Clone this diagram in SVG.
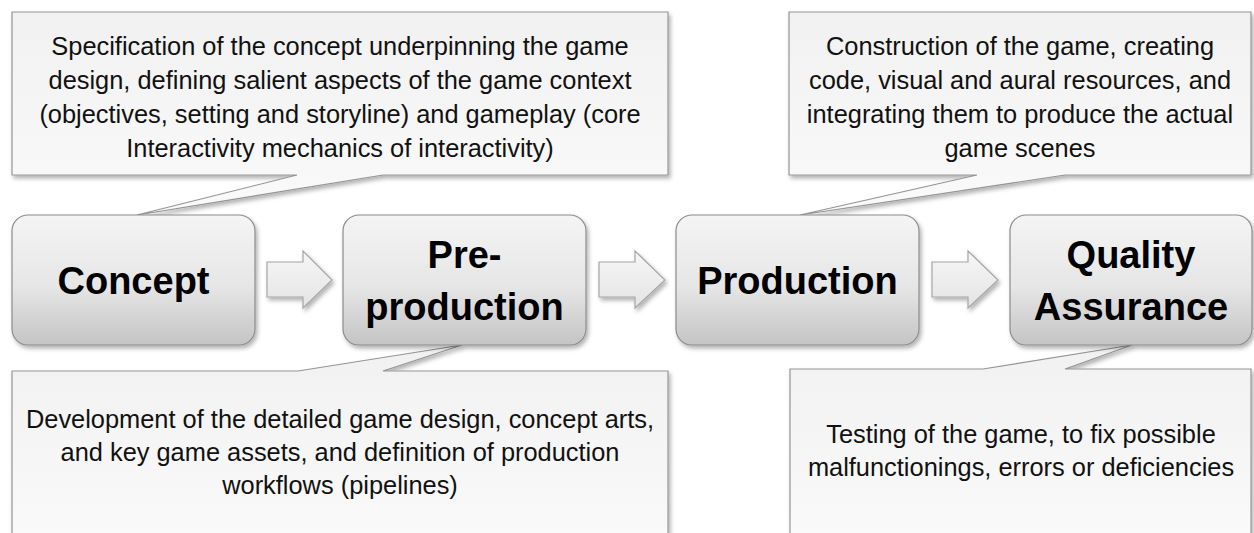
<svg xmlns="http://www.w3.org/2000/svg" width="1254" height="533" viewBox="0 0 1254 533">
<defs>
  <linearGradient id="boxGrad" x1="0" y1="0" x2="0" y2="1">
    <stop offset="0" stop-color="#f4f4f4"/>
    <stop offset="0.55" stop-color="#e6e6e6"/>
    <stop offset="1" stop-color="#c4c4c4"/>
  </linearGradient>
  <linearGradient id="calloutGrad" x1="0" y1="0" x2="0" y2="1">
    <stop offset="0" stop-color="#f1f1f1"/>
    <stop offset="1" stop-color="#fafafa"/>
  </linearGradient>
  <linearGradient id="arrowGrad" x1="0" y1="0" x2="0" y2="1">
    <stop offset="0" stop-color="#f6f6f6"/>
    <stop offset="1" stop-color="#e4e4e4"/>
  </linearGradient>
  <filter id="shadow" x="-5%" y="-5%" width="115%" height="120%">
    <feDropShadow dx="2" dy="3" stdDeviation="2" flood-color="#000" flood-opacity="0.3"/>
  </filter>
</defs>
<style>
  .box { fill: url(#boxGrad); stroke: #8c8c8c; stroke-width: 1.2; filter: url(#shadow); }
  .callout { fill: url(#calloutGrad); stroke: #959595; stroke-width: 1.2; filter: url(#shadow); }
  .arrow { fill: url(#arrowGrad); stroke: #a6a6a6; stroke-width: 1.2; filter: url(#shadow); }
  .label { font-family: "Liberation Sans", Arial, sans-serif; font-weight: bold; font-size: 38px; fill: #000; text-anchor: middle; }
  .desc { font-family: "Liberation Sans", Arial, sans-serif; font-size: 25.4px; fill: #111; text-anchor: middle; }
</style>

<g id="connectors">
  <path class="arrow" d="M267,262 H303 V251 L332,280 L303,308 V297 H267 Z"/>
  <path class="arrow" d="M599,262 H635 V251 L665,280 L635,308 V297 H599 Z"/>
  <path class="arrow" d="M932,262 H968 V251 L998,280 L968,308 V297 H932 Z"/>
</g>

<g id="callout-concept">
  <path class="callout" d="M12,12 H668 V175 H383 L137,215 L297,175 H12 Z"/>
  <text class="desc" x="340" y="55">Specification of the concept underpinning the game</text>
  <text class="desc" x="340" y="89">design, defining salient aspects of the game context</text>
  <text class="desc" x="340" y="123">(objectives, setting and storyline) and gameplay (core</text>
  <text class="desc" x="340" y="157">Interactivity mechanics of interactivity)</text>
</g>

<g id="callout-preproduction">
  <path class="callout" d="M12,371 H298 L462,345 L383,371 H668 V545 H12 Z"/>
  <text class="desc" x="340" y="428">Development of the detailed game design, concept arts,</text>
  <text class="desc" x="340" y="461">and key game assets, and definition of production</text>
  <text class="desc" x="340" y="494">workflows (pipelines)</text>
</g>

<g id="callout-production">
  <path class="callout" d="M789,12 H1251 V175 H1065 L800,215 L977,175 H789 Z"/>
  <text class="desc" x="1020" y="55">Construction of the game, creating</text>
  <text class="desc" x="1020" y="89">code, visual and aural resources, and</text>
  <text class="desc" x="1020" y="123">integrating them to produce the actual</text>
  <text class="desc" x="1020" y="157">game scenes</text>
</g>

<g id="callout-qa">
  <path class="callout" d="M790,369 H983 L1132,345 L1065,369 H1251 V545 H790 Z"/>
  <text class="desc" x="1021" y="443">Testing of the game, to fix possible</text>
  <text class="desc" x="1021" y="476">malfunctionings, errors or deficiencies</text>
</g>

<g id="node-concept">
  <rect class="box" x="12" y="215" width="243" height="130" rx="16"/>
  <text class="label" x="133.5" y="294">Concept</text>
</g>

<g id="node-preproduction">
  <rect class="box" x="343" y="215" width="243" height="130" rx="16"/>
  <text class="label" x="464.5" y="268">Pre-</text>
  <text class="label" x="464.5" y="320">production</text>
</g>

<g id="node-production">
  <rect class="box" x="676" y="215" width="243" height="130" rx="16"/>
  <text class="label" x="797.5" y="294">Production</text>
</g>

<g id="node-qa">
  <rect class="box" x="1010" y="215" width="242" height="130" rx="16"/>
  <text class="label" x="1131" y="268">Quality</text>
  <text class="label" x="1131" y="320">Assurance</text>
</g>
</svg>
